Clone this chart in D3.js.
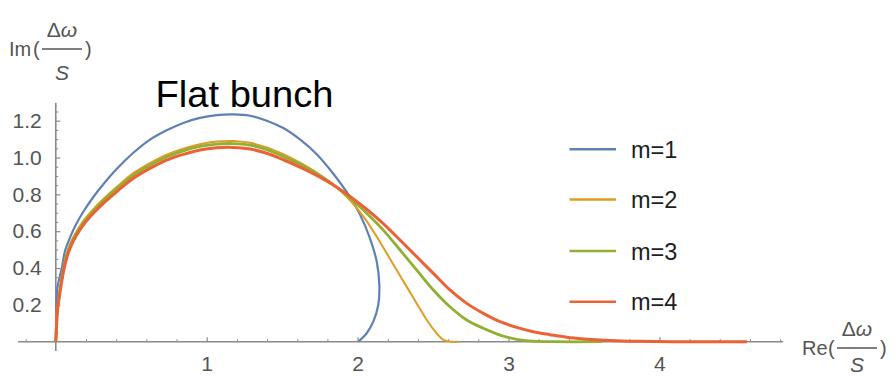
<!DOCTYPE html>
<html><head><meta charset="utf-8">
<script src="https://cdn.jsdelivr.net/npm/d3@7"></script>
<style>
body{margin:0;background:#fff;}
svg{display:block;}
text{font-family:"Liberation Sans",Arial,sans-serif;}
</style></head>
<body><svg id="c" width="894" height="378"></svg>
<script>
// ---- data ----
const seriesNames = ["m=1","m=2","m=3","m=4"];
const seriesColors = ["#5E81B5","#E19C24","#8FB032","#EB6235"];
const m1X = [0,0.004,0.01,0.04,0.06,0.094,0.127,0.18,0.25,0.315,0.40,0.51,0.62,0.735,0.845,0.955,1.066,1.176,1.287,1.398,1.508,1.618,1.729,1.839,1.95,2.016,2.082,2.127,2.144,2.137,2.104,2.06,2.005];
const m1Y = [0,0.16,0.29,0.40,0.49,0.565,0.625,0.703,0.787,0.855,0.935,1.023,1.095,1.148,1.188,1.215,1.230,1.234,1.227,1.200,1.160,1.098,1.018,0.912,0.785,0.690,0.561,0.434,0.308,0.199,0.109,0.046,0.0];
const m2X = [0,0.005,0.01,0.028,0.06,0.094,0.138,0.182,0.249,0.315,0.403,0.514,0.624,0.735,0.845,0.955,1.066,1.176,1.287,1.398,1.508,1.618,1.729,1.839,1.95,2.06,2.127,2.193,2.259,2.325,2.392,2.458,2.524,2.568,2.62,2.667];
const m2Y = [0,0.1,0.17,0.29,0.44,0.53,0.6,0.655,0.72,0.775,0.84,0.915,0.97,1.015,1.048,1.072,1.087,1.09,1.08,1.055,1.018,0.972,0.918,0.852,0.768,0.655,0.57,0.48,0.389,0.299,0.208,0.118,0.046,0.01,0,0];
const m3X = [0,0.005,0.01,0.028,0.06,0.094,0.138,0.182,0.249,0.315,0.403,0.514,0.624,0.735,0.845,0.955,1.066,1.176,1.287,1.398,1.508,1.618,1.729,1.839,1.95,2.06,2.17,2.281,2.392,2.502,2.612,2.723,2.833,2.944,3.054,3.164,3.3,3.62];
const m3Y = [0,0.095,0.165,0.28,0.43,0.52,0.59,0.645,0.71,0.765,0.83,0.903,0.958,1.003,1.036,1.06,1.073,1.076,1.067,1.043,1.006,0.963,0.912,0.853,0.780,0.697,0.606,0.498,0.389,0.281,0.19,0.118,0.073,0.036,0.013,0.003,0,0];
const m4X = [0,0.005,0.01,0.028,0.06,0.094,0.138,0.182,0.249,0.315,0.403,0.514,0.624,0.735,0.845,0.955,1.066,1.176,1.287,1.398,1.508,1.618,1.729,1.839,1.95,2.06,2.17,2.281,2.392,2.502,2.612,2.723,2.833,2.944,3.054,3.164,3.275,3.386,3.5,3.61,3.75,3.85,4.2,4.58];
const m4Y = [0,0.09,0.163,0.27,0.416,0.507,0.579,0.633,0.697,0.751,0.814,0.887,0.941,0.986,1.017,1.041,1.053,1.055,1.046,1.023,0.988,0.948,0.903,0.851,0.789,0.719,0.641,0.552,0.461,0.371,0.281,0.208,0.154,0.109,0.078,0.054,0.038,0.024,0.015,0.009,0.004,0.002,0,0];
const xTickValues = [1,2,3,4];
const yTickValues = [0.2,0.4,0.6,0.8,1.0,1.2];
const titleText = "Flat bunch";

// ---- chart ----
const svg = d3.select("#c");
const x = d3.scaleLinear().domain([0,4]).range([55.8,659.4]);
const y = d3.scaleLinear().domain([0,1.2]).range([341.7,120.7]);
const axisColor = "#8a8a8a", labelColor = "#555";

// axis lines
svg.append("line").attr("x1",x(-0.25)).attr("x2",x(4.82)).attr("y1",y(0)).attr("y2",y(0))
  .attr("stroke",axisColor).attr("stroke-width",1.6);
svg.append("line").attr("x1",x(0)).attr("x2",x(0)).attr("y1",y(-0.05)).attr("y2",y(1.297))
  .attr("stroke",axisColor).attr("stroke-width",1.6);

// x ticks
const xMinor = d3.range(-0.2,4.81,0.2).map(v=>+v.toFixed(2)).filter(v=>Math.abs(v)>1e-9 && !xTickValues.includes(v));
const gx = svg.append("g").attr("transform",`translate(0,${y(0)})`)
  .call(d3.axisBottom(x).tickValues(xTickValues).tickSizeInner(-4.5).tickSizeOuter(0).tickPadding(14).tickFormat(d3.format("d")));
gx.select(".domain").remove();
gx.selectAll("line").attr("stroke",axisColor).attr("stroke-width",1.2);
gx.selectAll("text").attr("fill",labelColor).attr("font-size",21).attr("font-family","Liberation Sans, Arial, sans-serif");
const gxm = svg.append("g").attr("transform",`translate(0,${y(0)})`)
  .call(d3.axisBottom(x).tickValues(xMinor).tickSizeInner(-2.5).tickSizeOuter(0).tickFormat(""));
gxm.select(".domain").remove();
gxm.selectAll("line").attr("stroke",axisColor).attr("stroke-width",1);

// y ticks
const yMinor = d3.range(0.05,1.3,0.05).map(v=>+v.toFixed(2)).filter(v=>!yTickValues.some(t=>Math.abs(t-v)<1e-9));
const gy = svg.append("g").attr("transform",`translate(${x(0)},0)`)
  .call(d3.axisLeft(y).tickValues(yTickValues).tickSizeInner(-4.5).tickSizeOuter(0).tickPadding(14).tickFormat(d3.format(".1f")));
gy.select(".domain").remove();
gy.selectAll("line").attr("stroke",axisColor).attr("stroke-width",1.2);
gy.selectAll("text").attr("fill",labelColor).attr("font-size",21).attr("font-family","Liberation Sans, Arial, sans-serif");
const gym = svg.append("g").attr("transform",`translate(${x(0)},0)`)
  .call(d3.axisLeft(y).tickValues(yMinor).tickSizeInner(-2.5).tickSizeOuter(0).tickFormat(""));
gym.select(".domain").remove();
gym.selectAll("line").attr("stroke",axisColor).attr("stroke-width",1);

// curves
const allX = [m1X,m2X,m3X,m4X], allY = [m1Y,m2Y,m3Y,m4Y];
const widths = [2.2,2.0,2.8,3.0];
const line = d3.line().x(d=>x(d[0])).y(d=>y(d[1])).curve(d3.curveCatmullRom.alpha(0.5));
allX.forEach((xs,i)=>{
  const pts = xs.map((v,j)=>[v,allY[i][j]]);
  svg.append("path").attr("d",line(pts)).attr("fill","none")
    .attr("stroke",seriesColors[i]).attr("stroke-width",widths[i]).attr("stroke-linejoin","round");
});

// legend
const legY = [149.3,199.5,251,301.7];
seriesNames.forEach((n,i)=>{
  svg.append("line").attr("x1",569.5).attr("x2",616).attr("y1",legY[i]).attr("y2",legY[i])
    .attr("stroke",seriesColors[i]).attr("stroke-width",2.6);
  svg.append("text").attr("x",631).attr("y",legY[i]+8.5).attr("font-size",23.5).attr("fill","#1e1e1e").text(n);
});

// title
svg.append("text").attr("x",155.5).attr("y",106.5).attr("font-family","Open Sans, Noto Sans, sans-serif")
  .attr("font-size",37).attr("textLength",178).attr("lengthAdjust","spacingAndGlyphs").attr("fill","#000").text(titleText);

// axis labels (fractions)
function frac(xLeft, baseY, prefix, prefixW, sOff){
  const g = svg.append("g").attr("fill",labelColor);
  g.append("text").attr("x",xLeft).attr("y",baseY).attr("font-size",20).text(prefix);
  const fx = xLeft + prefixW;
  g.append("text").attr("x",fx).attr("y",baseY).attr("font-size",20).text("(");
  g.append("line").attr("x1",fx+9).attr("x2",fx+49).attr("y1",baseY-7).attr("y2",baseY-7).attr("stroke",labelColor).attr("stroke-width",1.5);
  const t = g.append("text").attr("x",fx+29).attr("y",baseY-19).attr("text-anchor","middle").attr("font-size",21);
  t.append("tspan").text("Δ");
  t.append("tspan").attr("font-style","italic").text("ω");
  g.append("text").attr("x",fx+29).attr("y",baseY+sOff).attr("text-anchor","middle").attr("font-size",21).attr("font-style","italic").text("S");
  g.append("text").attr("x",fx+52).attr("y",baseY).attr("font-size",20).text(")");
}
frac(9, 56, "Im", 24, 24);
frac(802, 355, "Re", 26, 17);
</script></body></html>
